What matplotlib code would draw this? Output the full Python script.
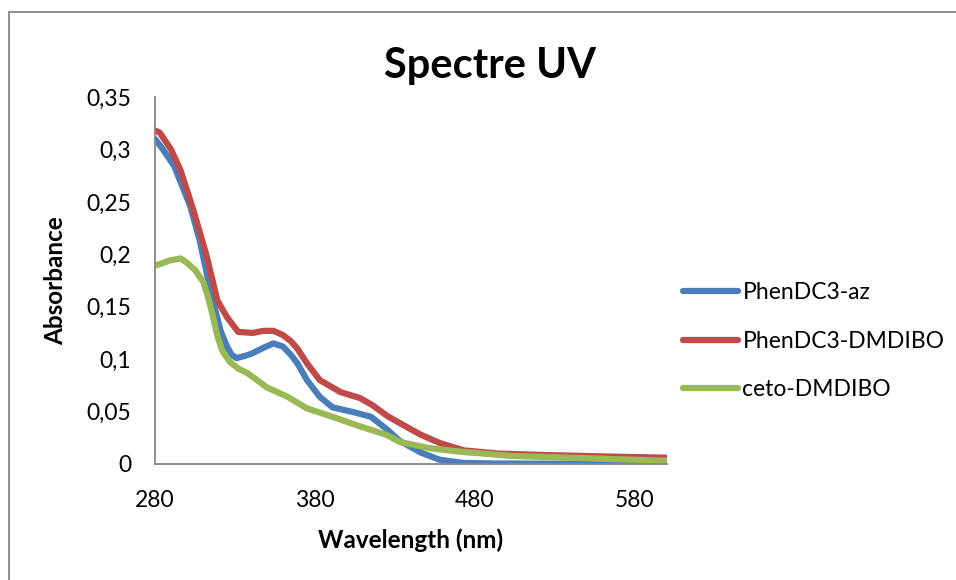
import matplotlib
matplotlib.use("Agg")
import matplotlib.pyplot as plt
from matplotlib.lines import Line2D

plt.rcParams['font.family'] = ['Lato', 'DejaVu Sans']

# ---- data ----
wl_az = [280, 285, 292, 302, 308, 314, 318, 321, 325, 328, 331, 336, 340, 348, 354, 360, 365,
         369, 375, 383, 391, 404, 415, 425, 433, 446, 458, 473, 490, 520, 560, 600]
abs_az = [0.310, 0.300, 0.284, 0.246, 0.213, 0.170, 0.145, 0.127, 0.112, 0.104, 0.101, 0.103,
          0.105, 0.111, 0.115, 0.112, 0.104, 0.096, 0.080, 0.064, 0.054, 0.0495, 0.045, 0.033,
          0.022, 0.011, 0.004, 0.001, 0.0005, 0.0003, 0.0003, 0.0003]

wl_dm = [280, 283, 290, 296, 304, 312, 319, 325, 332, 341, 348, 354, 360, 365, 369, 375, 383,
         396, 408, 416, 425, 433, 446, 458, 473, 494, 525, 567, 600]
abs_dm = [0.318, 0.316, 0.300, 0.280, 0.242, 0.200, 0.156, 0.140, 0.126, 0.125, 0.127, 0.127,
          0.123, 0.117, 0.110, 0.096, 0.080, 0.0685, 0.063, 0.056, 0.046, 0.039, 0.028, 0.020,
          0.013, 0.010, 0.0085, 0.007, 0.006]

wl_ceto = [280, 289, 296, 300, 305, 310, 313, 316, 319, 322, 327, 332, 338, 350, 363, 375, 391,
           406, 425, 433, 452, 473, 504, 546, 600]
abs_ceto = [0.189, 0.194, 0.196, 0.192, 0.185, 0.174, 0.160, 0.142, 0.122, 0.108, 0.097, 0.091,
            0.0865, 0.073, 0.064, 0.053, 0.045, 0.037, 0.0276, 0.021, 0.015, 0.0114, 0.0076,
            0.0057, 0.003]

series_names = ["PhenDC3-az", "PhenDC3-DMDIBO", "ceto-DMDIBO"]
series_colors = ["#4A7EBB", "#BE4B48", "#98B954"]

x_ticks = [280, 380, 480, 580]
y_ticks = [0, 0.05, 0.1, 0.15, 0.2, 0.25, 0.3, 0.35]
y_tick_labels = ["0", "0,05", "0,1", "0,15", "0,2", "0,25", "0,3", "0,35"]

# ---- figure ----
fig = plt.figure(figsize=(9.56, 5.8), dpi=100)
ax = fig.add_axes([155 / 956, 1 - 464 / 580, (667 - 155) / 956, (464 - 97) / 580])

for wl, ab, name, col in zip([wl_az, wl_dm, wl_ceto], [abs_az, abs_dm, abs_ceto],
                             series_names, series_colors):
    ax.plot(wl, ab, color=col, lw=4.5, label=name, solid_capstyle='round',
            solid_joinstyle='round')

ax.set_xlim(280, 600)
ax.set_ylim(0, 0.35)
ax.set_xticks(x_ticks)
ax.set_xticklabels([str(t) for t in x_ticks])
ax.set_yticks(y_ticks)
ax.set_yticklabels(y_tick_labels)
ax.tick_params(length=0, labelsize=16.5)
ax.tick_params(axis='y', pad=17)
ax.tick_params(axis='x', pad=19)
for s in ['top', 'right']:
    ax.spines[s].set_visible(False)
for s in ['left', 'bottom']:
    ax.spines[s].set_color('#878787')
    ax.spines[s].set_linewidth(1.3)

ax.set_xlabel("Wavelength (nm)", fontsize=17.5, fontweight='bold', labelpad=12)
ax.set_ylabel("Absorbance", fontsize=17.5, fontweight='bold', labelpad=14)
fig.text(490 / 956, 1 - 66 / 580, "Spectre UV", fontsize=30, fontweight='bold',
         ha='center', va='center')

leg = ax.legend(loc='center left', bbox_to_anchor=(1.031, 0.335), frameon=False,
                fontsize=16.5, handlelength=2.4, handletextpad=0.2, labelspacing=1.2,
                borderaxespad=0, borderpad=0)
for h in leg.get_lines():
    h.set_linewidth(4.5)

# chart-area border (clipped on right and bottom in reference)
fig.add_artist(Line2D([9 / 956, 9 / 956], [0, 1 - 12 / 580], color='#909090', lw=1.5,
                      transform=fig.transFigure))
fig.add_artist(Line2D([9 / 956, 1], [1 - 12 / 580, 1 - 12 / 580], color='#909090', lw=1.5,
                      transform=fig.transFigure))

fig.savefig("out.png", dpi=100)
